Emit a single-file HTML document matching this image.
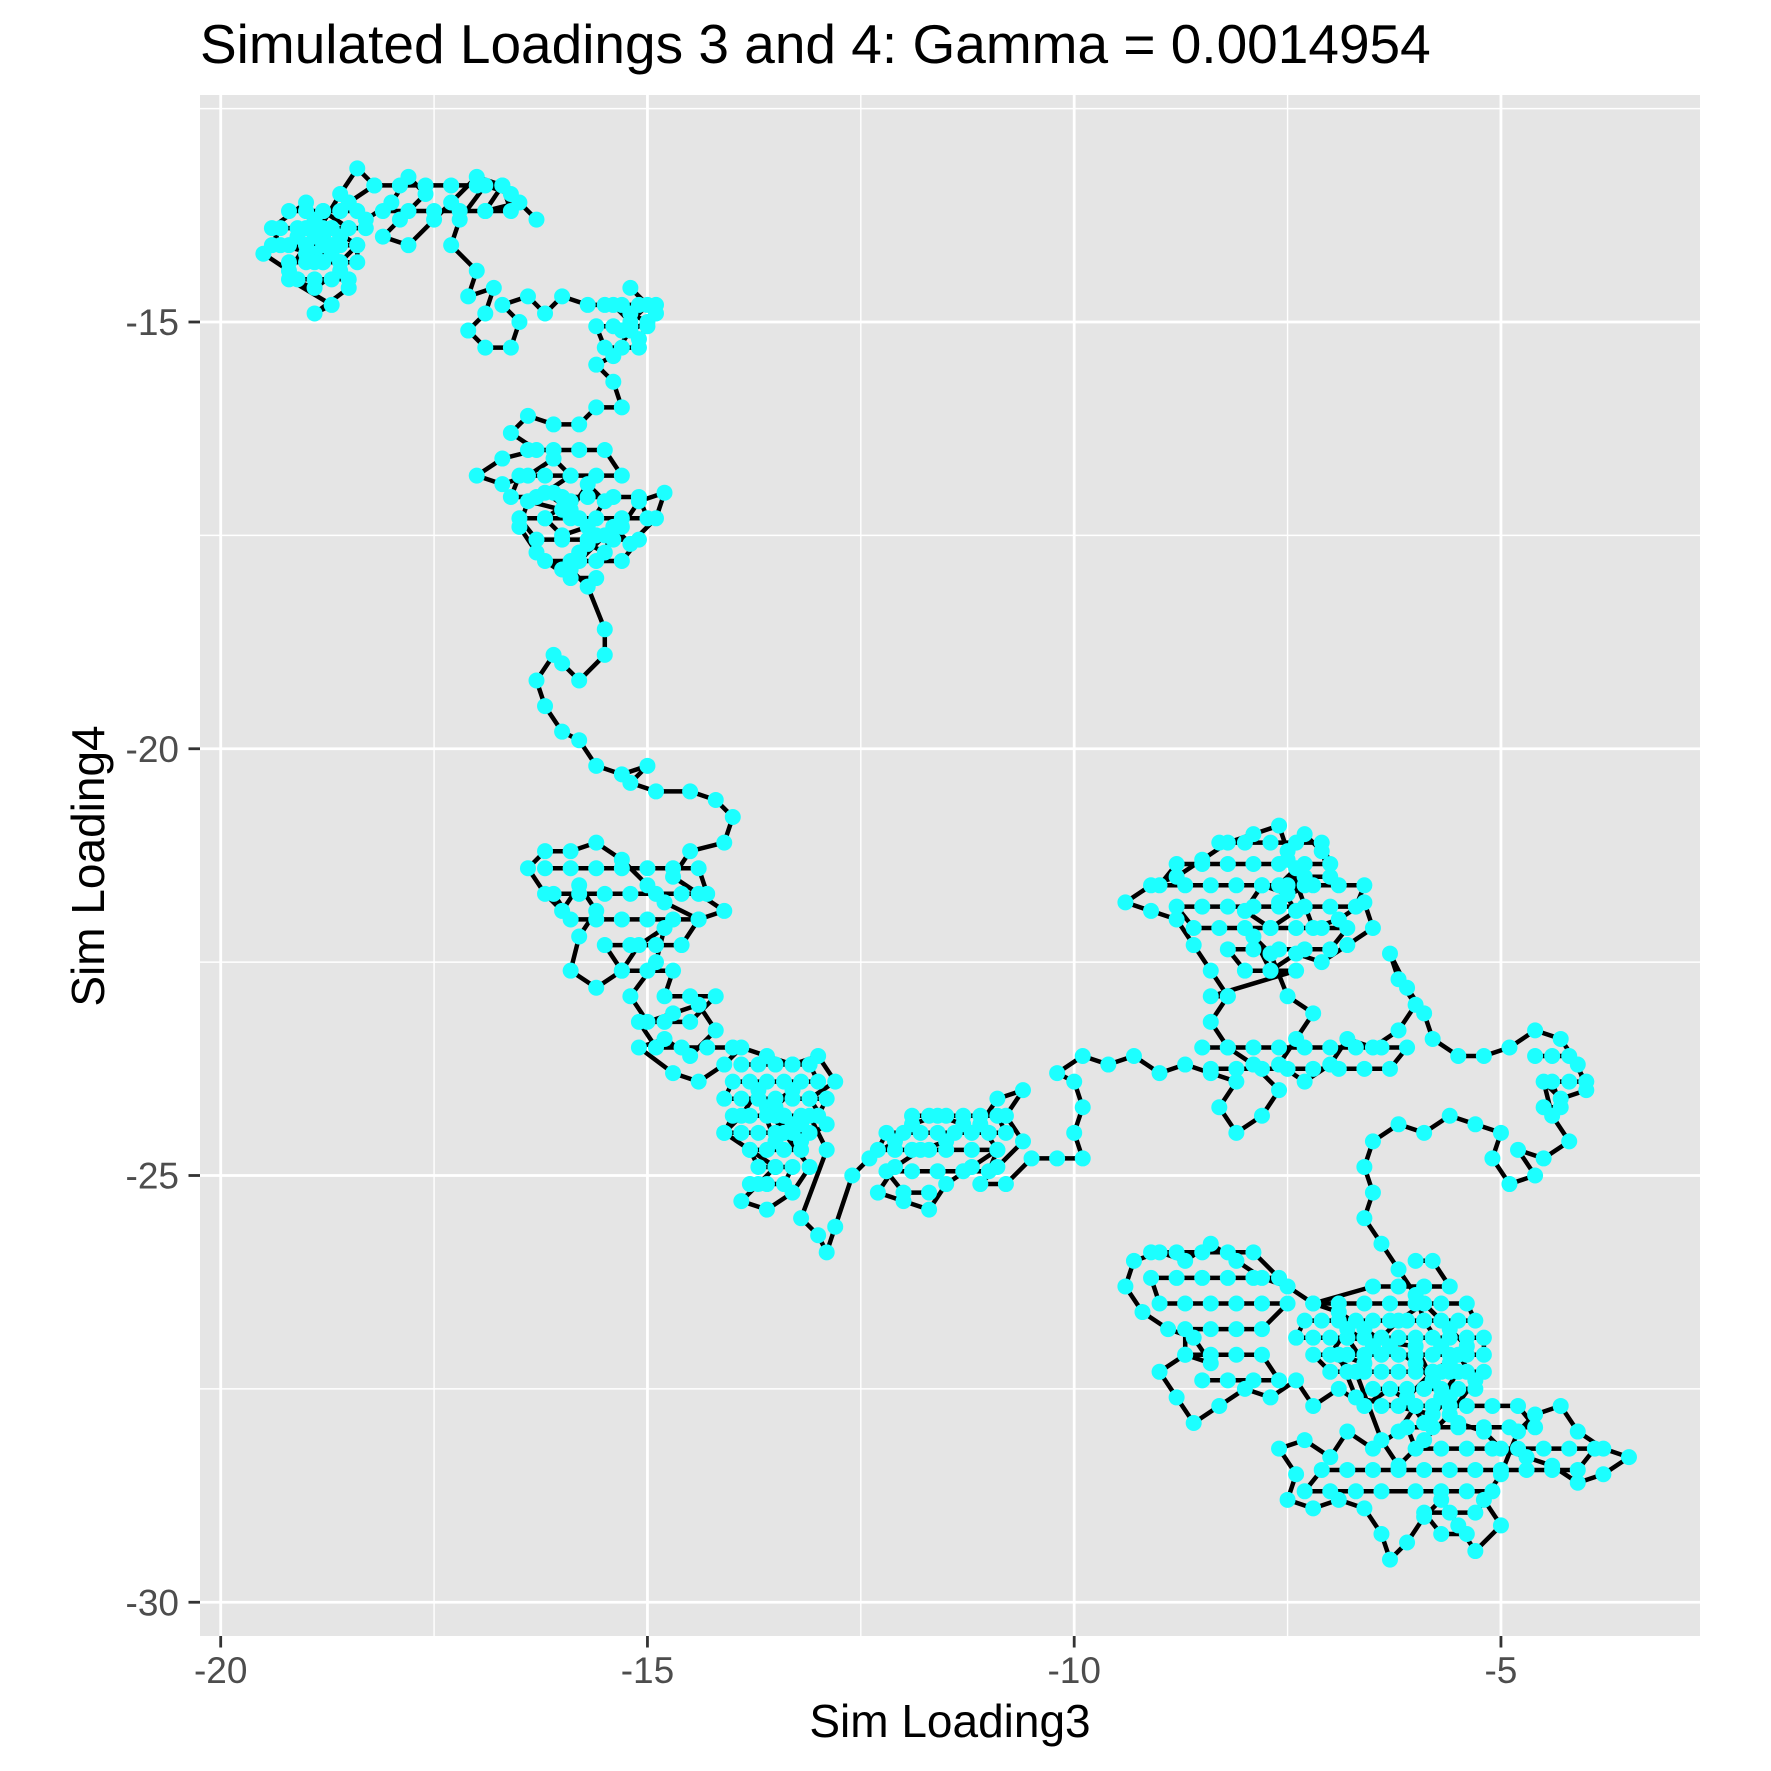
<!DOCTYPE html>
<html><head><meta charset="utf-8"><style>
html,body{margin:0;padding:0;background:#fff;}
svg{display:block;}
text{font-family:"Liberation Sans",Arial,sans-serif;}
</style></head><body>
<svg id="chart" width="1771" height="1771" viewBox="0 0 1771 1771" xmlns="http://www.w3.org/2000/svg">
<rect x="0" y="0" width="1771" height="1771" fill="#ffffff"/>
<text x="200" y="63" font-size="55" fill="#000">Simulated Loadings 3 and 4: Gamma = 0.0014954</text>
<rect x="200" y="95" width="1500" height="1541" fill="#e5e5e5"/>
<g id="grid"></g>
<g id="marks"></g>
<g id="axes"></g>
<text x="950" y="1737" font-size="46" text-anchor="middle" fill="#000">Sim Loading3</text>
<text x="104" y="866" font-size="46" text-anchor="middle" fill="#000" transform="rotate(-90,104,866)">Sim Loading4</text>
</svg>
<script>
const xTicks = [-20, -15, -10, -5];
const yTicks = [-15, -20, -25, -30];
const xMinor = [-17.5, -12.5, -7.5];
const yMinor = [-12.5, -17.5, -22.5, -27.5];
const loadingX = [-19.5,-19.2,-19.0,-18.8,-18.6,-18.9,-19.1,-18.7,-18.5,-18.8,-19.0,-18.6,-18.9,-19.2,-18.7,-18.9,-18.5,-18.6,-18.4,-18.7,-18.9,-19.3,-19.4,-19.0,-18.8,-18.9,-18.7,-18.8,-19.0,-18.9,-18.6,-18.4,-18.2,-18.5,-18.3,-18.0,-17.8,-17.6,-17.9,-18.1,-17.8,-17.5,-17.3,-17.0,-16.7,-16.9,-16.5,-16.3,-16.6,-16.9,-17.2,-17.3,-17.0,-17.1,-16.8,-16.9,-17.1,-16.9,-16.6,-16.5,-16.7,-16.4,-16.2,-16.0,-15.7,-15.4,-15.2,-15.0,-15.2,-14.9,-15.1,-15.3,-15.2,-15.0,-15.2,-15.4,-15.6,-15.4,-15.3,-15.6,-15.8,-16.1,-16.4,-16.6,-16.3,-16.7,-17.0,-16.7,-16.4,-16.1,-15.9,-16.2,-15.9,-15.7,-15.5,-15.7,-16.0,-16.2,-15.9,-16.1,-15.8,-16.0,-16.4,-16.5,-16.3,-16.0,-15.8,-15.6,-15.3,-15.1,-14.8,-14.9,-15.2,-15.4,-15.5,-15.7,-15.5,-15.8,-15.9,-15.7,-15.5,-15.5,-15.8,-16.0,-16.1,-16.3,-16.2,-16.0,-15.8,-15.6,-15.3,-15.0,-15.2,-14.9,-14.5,-14.2,-14.0,-14.1,-14.5,-14.7,-14.4,-14.1,-14.4,-14.8,-15.0,-15.3,-15.6,-15.9,-16.2,-16.4,-16.2,-16.0,-15.8,-15.6,-15.8,-15.9,-15.6,-15.3,-15.1,-14.8,-14.9,-15.2,-15.0,-14.7,-14.4,-14.2,-14.5,-14.8,-15.1,-14.7,-14.4,-14.1,-13.9,-13.6,-13.3,-13.0,-12.8,-13.1,-12.9,-13.2,-13.5,-13.7,-13.9,-14.1,-13.8,-13.5,-13.7,-13.9,-13.6,-13.3,-13.1,-13.4,-13.6,-13.3,-13.5,-13.2,-13.4,-13.7,-13.5,-13.3,-13.1,-12.9,-13.2,-13.0,-12.9,-12.8,-12.6,-12.4,-12.1,-11.9,-11.6,-11.3,-11.5,-11.8,-12.1,-12.3,-12.0,-11.7,-11.5,-11.2,-10.9,-11.1,-10.9,-10.6,-10.8,-10.6,-10.9,-11.1,-10.8,-10.5,-10.2,-9.9,-10.0,-9.9,-10.0,-10.2,-9.9,-9.6,-9.3,-9.0,-8.7,-8.4,-8.1,-8.3,-8.1,-7.8,-7.6,-7.9,-8.2,-8.4,-8.2,-8.4,-8.6,-8.8,-9.1,-9.4,-9.1,-8.8,-8.5,-8.2,-7.9,-7.6,-7.5,-7.3,-7.1,-7.0,-7.3,-7.5,-7.8,-8.0,-7.7,-7.4,-7.6,-7.4,-7.6,-7.3,-7.5,-7.2,-6.9,-6.6,-6.5,-6.8,-7.1,-7.4,-7.7,-7.9,-7.7,-7.5,-7.2,-7.4,-7.6,-7.3,-7.0,-6.8,-6.5,-6.2,-6.0,-6.2,-6.3,-6.1,-5.9,-5.8,-5.5,-5.2,-4.9,-4.6,-4.3,-4.1,-4.0,-4.3,-4.5,-4.4,-4.2,-4.5,-4.8,-4.6,-4.9,-5.1,-5.0,-5.3,-5.6,-5.9,-6.2,-6.5,-6.6,-6.5,-6.6,-6.4,-6.2,-6.0,-5.9,-5.7,-5.5,-5.7,-5.5,-5.2,-5.0,-4.7,-4.4,-4.1,-3.8,-3.5,-3.8,-4.1,-4.3,-4.6,-4.8,-5.0,-5.2,-5.0,-5.3,-5.5,-5.7,-5.9,-6.1,-6.3,-6.4,-6.6,-6.9,-7.2,-7.5,-7.4,-7.6,-7.3,-7.0,-6.8,-6.5,-6.2,-6.0,-6.3,-6.6,-6.9,-7.2,-7.4,-7.7,-8.0,-8.3,-8.6,-8.8,-9.0,-8.7,-8.4,-8.6,-8.9,-9.2,-9.4,-9.3,-9.0,-8.7,-8.4,-8.1,-7.8,-7.5,-7.2,-6.9,-6.6,-6.3,-6.0,-5.8,-5.6,-5.9,-6.1,-5.8,-5.5,-5.3,-5.6,-5.9,-6.2,-6.4,-6.7,-7.0,-6.8,-6.5,-6.2,-5.9,-5.6,-5.4,-5.7,-5.9,-5.6,-5.8,-6.0,-6.8,-6.6,-6.9,-6.7,-5.8,-5.6];
const loadingY = [-14.2,-14.4,-14.1,-14.3,-14.0,-13.8,-14.0,-14.2,-13.9,-13.7,-13.9,-14.4,-14.6,-14.5,-14.8,-14.9,-14.6,-14.3,-14.1,-13.9,-14.2,-14.1,-13.9,-13.6,-14.0,-14.3,-14.1,-13.9,-14.2,-14.0,-13.5,-13.2,-13.4,-13.6,-13.8,-13.6,-13.3,-13.5,-13.8,-14.0,-14.1,-13.8,-13.6,-13.3,-13.4,-13.7,-13.6,-13.8,-13.5,-13.4,-13.8,-14.1,-14.4,-14.7,-14.6,-14.9,-15.1,-15.3,-15.3,-15.0,-14.8,-14.7,-14.9,-14.7,-14.8,-14.8,-15.0,-14.8,-14.6,-14.9,-15.2,-15.1,-14.9,-15.0,-15.1,-15.4,-15.5,-15.7,-16.0,-16.0,-16.2,-16.2,-16.1,-16.3,-16.5,-16.6,-16.8,-16.9,-16.8,-16.6,-16.8,-17.0,-17.2,-16.9,-17.1,-17.4,-17.5,-17.3,-17.1,-17.0,-17.3,-17.2,-17.1,-17.4,-17.7,-17.9,-17.7,-17.5,-17.4,-17.1,-17.0,-17.3,-17.6,-17.4,-17.7,-17.6,-17.5,-17.8,-17.9,-18.1,-18.6,-18.9,-19.2,-19.0,-18.9,-19.2,-19.5,-19.8,-19.9,-20.2,-20.3,-20.2,-20.4,-20.5,-20.5,-20.6,-20.8,-21.1,-21.2,-21.5,-21.7,-21.9,-22.0,-21.8,-21.6,-21.3,-21.1,-21.2,-21.2,-21.4,-21.7,-21.9,-21.6,-21.9,-22.2,-22.6,-22.8,-22.6,-22.3,-22.1,-22.5,-22.9,-23.2,-23.1,-23.0,-23.3,-23.6,-23.4,-23.5,-23.8,-23.9,-23.7,-23.5,-23.6,-23.7,-23.6,-23.9,-24.1,-24.4,-24.6,-24.3,-24.0,-24.3,-24.5,-24.7,-24.9,-25.1,-25.3,-25.4,-25.2,-24.9,-24.5,-24.2,-24.0,-24.2,-24.4,-24.3,-24.1,-24.6,-24.4,-24.3,-24.7,-25.5,-25.7,-25.9,-25.6,-25.0,-24.8,-24.6,-24.4,-24.3,-24.4,-24.6,-24.7,-24.9,-25.2,-25.3,-25.4,-25.1,-24.9,-24.7,-24.4,-24.1,-24.0,-24.3,-24.6,-24.9,-25.1,-25.1,-24.8,-24.8,-24.8,-24.5,-24.2,-23.9,-23.8,-23.6,-23.7,-23.6,-23.8,-23.7,-23.8,-23.9,-24.2,-24.5,-24.3,-24.0,-23.7,-23.5,-23.2,-22.9,-22.6,-22.3,-22.0,-21.9,-21.8,-21.6,-21.5,-21.3,-21.1,-21.0,-20.9,-21.2,-21.0,-21.2,-21.5,-21.5,-21.7,-21.6,-21.9,-22.1,-21.9,-21.6,-21.4,-21.8,-21.6,-21.3,-22.1,-22.0,-21.8,-22.1,-22.3,-22.5,-22.4,-22.6,-22.2,-22.4,-22.9,-23.1,-23.4,-23.7,-23.9,-23.7,-23.4,-23.5,-23.3,-23.0,-22.7,-22.4,-22.8,-23.1,-23.4,-23.6,-23.6,-23.5,-23.3,-23.4,-23.7,-24.0,-24.1,-23.9,-24.3,-24.6,-24.8,-24.7,-25.0,-25.1,-24.8,-24.5,-24.4,-24.3,-24.5,-24.4,-24.6,-24.9,-25.2,-25.5,-25.8,-26.1,-26.4,-26.7,-27.0,-27.3,-27.6,-27.9,-28.0,-28.2,-28.3,-28.4,-28.6,-28.5,-28.3,-28.2,-28.0,-27.7,-27.8,-28.0,-28.5,-28.8,-29.1,-29.4,-29.1,-28.8,-29.0,-29.3,-29.5,-29.2,-28.9,-28.8,-28.9,-28.8,-28.5,-28.2,-28.1,-28.3,-28.0,-28.2,-28.0,-27.7,-27.5,-27.7,-27.5,-27.7,-27.4,-27.6,-27.5,-27.7,-27.9,-27.6,-27.3,-27.1,-27.2,-26.9,-26.8,-26.6,-26.3,-26.0,-25.9,-26.0,-25.8,-26.0,-26.2,-26.3,-26.5,-26.6,-26.8,-27.0,-27.2,-27.4,-27.6,-27.9,-27.6,-27.3,-27.1,-27.4,-27.8,-28.1,-28.4,-28.1,-27.3,-27.1,-26.8,-27.0,-26.7,-26.5,-26.8,-27.0,-27.3,-27.5,-27.2,-27.4,-27.0,-26.9,-27.2,-27.1,-27.6,-27.8];

// dense sub-walks: each row is [loading4, loading3 values...]
const clusterTopLeft = [
 [-13.7,-19.2,-19.0,-18.8,-18.6,-18.4],
 [-13.9,-18.3,-18.5,-18.7,-18.9,-19.1,-19.3],
 [-14.1,-19.4,-19.2,-19.0,-18.8,-18.6,-18.4],
 [-14.3,-18.4,-18.6,-18.8,-19.0,-19.2],
 [-14.5,-19.1,-18.9,-18.7,-18.5]];
const clusterTopBand = [
 [-13.4,-18.2,-17.9,-17.6,-17.3,-17.0,-16.7],
 [-13.7,-16.6,-16.9,-17.2,-17.5,-17.8,-18.1]];
const clusterNeck = [
 [-14.8,-15.5,-15.3,-15.1,-14.9],
 [-15.05,-15.0,-15.2,-15.4,-15.6],
 [-15.3,-15.5,-15.3,-15.1]];
const clusterUpperMid = [
 [-16.5,-16.4,-16.1,-15.8,-15.5],
 [-16.8,-15.3,-15.6,-15.9,-16.2,-16.5],
 [-17.05,-16.6,-16.3,-16.0,-15.7,-15.4,-15.1],
 [-17.3,-15.0,-15.3,-15.6,-15.9,-16.2,-16.5],
 [-17.55,-16.3,-16.0,-15.7,-15.4,-15.1],
 [-17.8,-15.3,-15.6,-15.9,-16.2],
 [-18.0,-15.9,-15.6]];
const clusterMidLeft = [
 [-21.4,-16.2,-15.9,-15.6,-15.3,-15.0,-14.7,-14.4],
 [-21.7,-14.3,-14.6,-14.9,-15.2,-15.5,-15.8,-16.1],
 [-22.0,-15.9,-15.6,-15.3,-15.0,-14.7,-14.4],
 [-22.3,-14.6,-14.9,-15.2,-15.5],
 [-22.6,-15.3,-15.0,-14.7],
 [-22.9,-14.8,-14.5,-14.2],
 [-23.2,-14.5,-14.8,-15.1],
 [-23.5,-14.9,-14.6,-14.3,-14.0]];
const clusterLowerMid = [
 [-23.7,-13.9,-13.7,-13.5,-13.3,-13.1],
 [-23.9,-13.0,-13.2,-13.4,-13.6,-13.8,-14.0],
 [-24.1,-14.1,-13.9,-13.7,-13.5,-13.3,-13.1,-12.9],
 [-24.3,-13.0,-13.2,-13.4,-13.6,-13.8,-14.0],
 [-24.5,-14.1,-13.9,-13.7,-13.5,-13.3,-13.1],
 [-24.7,-13.2,-13.4,-13.6,-13.8],
 [-24.9,-13.7,-13.5,-13.3],
 [-25.1,-13.4,-13.6,-13.8]];
const clusterCenter = [
 [-24.3,-11.9,-11.7,-11.5,-11.3,-11.1,-10.9],
 [-24.5,-10.8,-11.0,-11.2,-11.4,-11.6,-11.8,-12.0,-12.2],
 [-24.7,-12.3,-12.1,-11.9,-11.7,-11.5,-11.2,-10.9],
 [-24.95,-11.0,-11.3,-11.6,-11.9,-12.2],
 [-25.2,-12.0,-11.7]];
const clusterUpperRight = [
 [-21.1,-8.3,-8.0,-7.7,-7.4,-7.1],
 [-21.35,-7.0,-7.3,-7.6,-7.9,-8.2,-8.5,-8.8],
 [-21.6,-9.0,-8.7,-8.4,-8.1,-7.8,-7.5,-7.2,-6.9,-6.6],
 [-21.85,-6.7,-7.0,-7.3,-7.6,-7.9,-8.2,-8.5,-8.8],
 [-22.1,-8.6,-8.3,-8.0,-7.7,-7.4,-7.1,-6.8],
 [-22.35,-7.0,-7.3,-7.6,-7.9,-8.2],
 [-22.6,-8.0,-7.7,-7.4],
 [-22.9,-8.4,-8.2]];
const clusterRightBand = [
 [-23.5,-8.5,-8.2,-7.9,-7.6,-7.3,-7.0,-6.7,-6.4,-6.1],
 [-23.75,-6.3,-6.6,-6.9,-7.2,-7.5,-7.8,-8.1,-8.4]];
const clusterFarRight = [
 [-23.6,-4.6,-4.4,-4.2],
 [-23.9,-4.0,-4.2,-4.4],
 [-24.2,-4.3,-4.5]];
const clusterLowerLeft = [
 [-25.9,-9.1,-8.8,-8.5,-8.2,-7.9],
 [-26.2,-7.6,-7.9,-8.2,-8.5,-8.8,-9.1],
 [-26.5,-9.0,-8.7,-8.4,-8.1,-7.8,-7.5],
 [-26.8,-7.8,-8.1,-8.4,-8.7],
 [-27.1,-8.7,-8.4,-8.1,-7.8],
 [-27.4,-7.6,-7.9,-8.2,-8.5]];
const clusterLowerRight = [
 [-26.0,-6.0,-5.8],
 [-26.3,-5.6,-5.9,-6.2,-6.5],
 [-26.5,-7.2,-6.9,-6.6,-6.3,-6.0,-5.7,-5.4],
 [-26.7,-5.3,-5.5,-5.7,-5.9,-6.1,-6.3,-6.5,-6.7,-6.9,-7.1,-7.3],
 [-26.9,-7.4,-7.2,-7.0,-6.8,-6.6,-6.4,-6.2,-6.0,-5.8,-5.6,-5.4,-5.2],
 [-27.1,-5.2,-5.4,-5.6,-5.8,-6.0,-6.2,-6.4,-6.6,-6.8,-7.0,-7.2],
 [-27.3,-7.0,-6.8,-6.6,-6.4,-6.2,-6.0,-5.8,-5.6,-5.4,-5.2],
 [-27.5,-5.3,-5.5,-5.7,-5.9,-6.1,-6.3,-6.5],
 [-27.7,-6.4,-6.2,-6.0,-5.8,-5.6,-5.4,-5.1,-4.8],
 [-27.95,-4.6,-4.9,-5.2,-5.5,-5.8,-6.1],
 [-28.2,-6.0,-5.7,-5.4,-5.1,-4.8,-4.5,-4.2,-3.9],
 [-28.45,-4.1,-4.4,-4.7,-5.0,-5.3,-5.6,-5.9,-6.2,-6.5,-6.8,-7.1],
 [-28.7,-7.3,-7.0,-6.7,-6.4,-6.0,-5.7,-5.4,-5.1],
 [-28.95,-5.3,-5.6,-5.9],
 [-29.2,-5.7,-5.4]];
const clusters = [clusterTopLeft, clusterTopBand, clusterNeck, clusterUpperMid, clusterMidLeft, clusterLowerMid, clusterCenter, clusterUpperRight, clusterRightBand, clusterFarRight, clusterLowerLeft, clusterLowerRight];

const X0 = 220.7, Y0 = 322, PX = 85.35;
function sx(v){ return X0 + (v + 20) * PX; }
function sy(v){ return Y0 + (-15 - v) * PX; }
const NS = 'http://www.w3.org/2000/svg';
const grid = document.getElementById('grid');
const marks = document.getElementById('marks');
const axes = document.getElementById('axes');
function mk(tag, attrs, parent){
  const el = document.createElementNS(NS, tag);
  for (const k in attrs) el.setAttribute(k, attrs[k]);
  parent.appendChild(el);
  return el;
}
xMinor.forEach(v => {
  const l = mk('line', {x1: sx(v), x2: sx(v), y1: 95, y2: 1636, stroke: '#fff', 'stroke-width': 1.4}, grid);
  
  
});
yMinor.forEach(v => {
  const l = mk('line', {x1: 200, x2: 1700, y1: sy(v), y2: sy(v), stroke: '#fff', 'stroke-width': 1.4}, grid);
  
  
});
xTicks.forEach(v => {
  const l = mk('line', {x1: sx(v), x2: sx(v), y1: 95, y2: 1636, stroke: '#fff', 'stroke-width': 2.8}, grid);
  
  
  const t = mk('line', {x1: sx(v), x2: sx(v), y1: 1636, y2: 1647.5, stroke: '#333', 'stroke-width': 2.8}, axes);
  
  
  const tx = mk('text', {x: sx(v), y: 1683, 'font-size': 37, 'text-anchor': 'middle', fill: '#4d4d4d'}, axes);
  tx.textContent = String(v);
  
  
});
yTicks.forEach(v => {
  const l = mk('line', {x1: 200, x2: 1700, y1: sy(v), y2: sy(v), stroke: '#fff', 'stroke-width': 2.8}, grid);
  
  
  const t = mk('line', {x1: 188.5, x2: 200, y1: sy(v), y2: sy(v), stroke: '#333', 'stroke-width': 2.8}, axes);
  
  
  const tx = mk('text', {x: 179, y: sy(v) + 13, 'font-size': 37, 'text-anchor': 'end', fill: '#4d4d4d'}, axes);
  tx.textContent = String(v);
  
  
});
const walks = [];
const n = Math.min(loadingX.length, loadingY.length);
const main = [];
for (let i = 0; i < n; i++) main.push([loadingX[i], loadingY[i]]);
walks.push(main);
clusters.forEach(rows => {
  const w = [];
  rows.forEach(r => { for (let j = 1; j < r.length; j++) w.push([r[j], r[0]]); });
  walks.push(w);
});
const lineG = mk('g', {}, marks);


const dotG = mk('g', {}, marks);


walks.forEach(w => {
  let d = '';
  w.forEach((p, i) => { d += (i ? 'L' : 'M') + sx(p[0]).toFixed(1) + ',' + sy(p[1]).toFixed(1); });
  const path = mk('path', {d: d, fill: 'none', stroke: '#000', 'stroke-width': 4.5, 'stroke-linejoin': 'round'}, lineG);
  
  
});
walks.forEach(w => {
  w.forEach(p => {
    const c = mk('circle', {cx: sx(p[0]), cy: sy(p[1]), r: 8, fill: '#1cffff'}, dotG);
    
    
  });
});
</script>
</body></html>
